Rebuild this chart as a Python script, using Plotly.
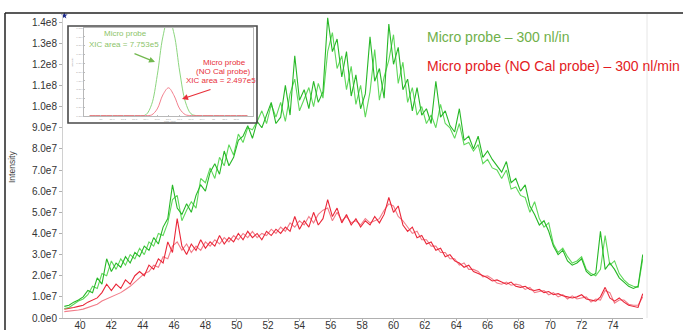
import plotly.graph_objects as go

# ---------------------------------------------------------------
# Data: extracted-ion intensities (units of 1e7 counts), sampled
# every 0.3 min from 39.0 min
# ---------------------------------------------------------------
T0, DT = 39.0, 0.3
SCALE = 1e7

green_a = [0.55, 0.6, 0.75, 0.85, 1.0, 1.3, 1.2, 1.9, 1.6, 2.8,
           2.2, 2.6, 2.4, 2.9, 2.6, 3.1, 2.9, 3.4, 3.2, 3.8,
           3.5, 4.3, 4.7, 6.3, 5.2, 4.9, 5.4, 5.0, 5.8, 6.3,
           6.0, 6.9, 7.3, 6.8, 7.9, 7.2, 7.6, 8.4, 8.6, 9.1,
           8.5, 9.3, 9.0, 9.6, 10.2, 9.2, 9.5, 11.0, 9.6, 12.4,
           10.3, 10.8, 9.9, 11.2, 10.2, 10.7, 14.2, 12.6, 13.2, 11.4,
           12.6, 10.5, 11.5, 9.9, 10.6, 13.3, 11.2, 11.8, 10.4, 13.9,
           12.0, 12.8, 10.8, 11.3, 9.8, 10.9, 9.6, 9.9, 9.2, 11.2,
           9.5, 9.8, 9.1, 8.8, 9.9, 8.4, 8.6, 8.0, 8.6, 7.6,
           7.9, 7.5, 7.2, 6.9, 7.4, 6.4, 6.6, 6.0, 6.3, 5.3,
           4.9, 4.4, 4.6, 4.1, 3.4, 3.0, 3.2, 2.7, 2.5, 2.6,
           2.8, 2.2, 2.0, 2.1, 4.1, 2.3, 2.6, 2.3, 1.9, 1.7,
           1.5, 1.4, 1.5, 3.0]

green_b = [0.45, 0.5, 0.65, 0.8, 0.9, 1.1, 1.5, 1.4, 2.1, 2.0,
           2.7, 2.3, 2.8, 2.5, 3.0, 2.8, 3.3, 3.0, 3.6, 3.4,
           4.0, 3.9, 4.5, 5.6, 5.8, 4.6, 5.1, 5.5, 5.2, 6.6,
           6.4, 7.1, 6.6, 7.6, 7.2, 8.2, 7.7, 8.7, 8.3, 9.0,
           8.9, 9.3, 9.8, 9.2, 10.1, 9.5, 10.2, 9.3, 10.6, 11.3,
           9.8, 10.4, 10.9, 10.0, 11.1, 10.4, 12.6, 13.5, 11.8, 12.4,
           10.8, 11.9, 10.1, 11.0, 9.5, 10.7, 12.7, 10.3, 11.4, 12.2,
           13.4, 11.1, 12.1, 10.2, 10.9, 9.6, 10.0, 9.2, 9.6, 9.0,
           10.1, 9.2, 9.0, 8.5, 9.2, 8.2, 8.3, 7.9, 8.2, 7.3,
           7.5, 7.1, 7.0, 6.6, 7.0, 6.1, 6.2, 5.8, 5.7, 5.0,
           5.5, 4.7, 4.3, 4.5, 3.5, 3.1, 3.3, 2.9, 2.6, 2.7,
           2.9, 2.3, 2.1, 2.0, 2.3, 3.9, 2.5, 2.7, 2.1, 1.8,
           1.6, 1.5, 1.45, 2.8]

red_a = [0.42, 0.45, 0.5, 0.55, 0.6, 0.75, 0.85, 0.95, 1.2, 1.6,
         1.3, 1.6, 1.4, 1.8, 1.6, 2.0, 2.2, 2.0, 2.5, 2.3,
         2.8, 2.6, 3.6, 3.1, 4.7, 3.4, 3.0, 3.5, 3.2, 3.7,
         3.3, 3.6, 3.4, 3.9, 3.5, 3.8, 3.6, 4.0, 3.7, 4.1,
         3.8, 4.0, 3.7, 4.1, 3.9, 4.2, 4.0, 4.3, 4.1, 4.8,
         4.2, 4.6, 4.3, 5.0, 4.4, 4.7, 5.6, 4.8, 5.2, 4.5,
         4.9, 4.4, 4.7, 4.3, 4.6, 4.4, 4.8, 4.5, 4.9, 5.7,
         5.0, 5.3, 4.4, 4.1, 4.3, 3.8, 3.9, 3.5, 3.6, 3.2,
         3.3, 2.9, 3.0, 2.7, 2.6, 2.4, 2.5, 2.2, 2.1, 2.0,
         1.9, 1.75, 1.8, 1.7, 1.6, 1.7, 1.5, 1.45, 1.5, 1.35,
         1.3, 1.35, 1.2, 1.25, 1.1, 1.15, 1.05, 1.0, 0.95, 1.0,
         1.1, 0.9, 0.85, 0.8, 1.0, 1.45, 0.95, 0.8, 0.95, 0.75,
         0.6, 0.55, 0.5, 1.15]

red_b = [0.3, 0.32, 0.35, 0.38, 0.42, 0.5, 0.6, 0.65, 0.8, 0.9,
         1.0, 1.1, 1.2, 1.35, 1.5, 1.7, 1.9, 2.1, 2.2, 2.5,
         2.4, 2.9, 2.8, 3.4, 3.6, 3.2, 3.5, 3.1, 3.4, 3.2,
         3.6, 3.4, 3.7, 3.5, 3.8, 3.6, 3.9, 3.7, 4.0, 3.8,
         4.1, 3.8, 4.0, 3.9, 4.2, 4.0, 4.3, 4.1, 4.5, 4.3,
         4.6, 4.4, 4.8, 4.5, 4.9, 5.1, 5.2, 4.6, 5.0, 4.6,
         4.8, 4.5, 4.6, 4.4, 4.7, 4.5, 4.6, 4.7, 5.1, 5.4,
         5.3, 4.8, 4.6, 4.3, 4.0, 4.1, 3.7, 3.7, 3.4, 3.4,
         3.1, 3.1, 2.8, 2.8, 2.5, 2.6, 2.3, 2.3, 2.2, 1.95,
         2.0, 1.85, 1.65, 1.6, 1.7, 1.55, 1.6, 1.55, 1.35, 1.45,
         1.2, 1.25, 1.3, 1.1, 1.2, 1.0, 1.1, 0.9, 1.05, 0.9,
         0.95, 1.0, 0.75, 0.9, 0.85, 1.3, 1.2, 0.7, 0.85, 0.85,
         0.65, 0.6, 0.6, 1.0]

x_ticks = [40, 42, 44, 46, 48, 50, 52, 54, 56, 58, 60, 62, 64, 66, 68, 70, 72, 74]
y_tick_vals = [0, 1e7, 2e7, 3e7, 4e7, 5e7, 6e7, 7e7, 8e7, 9e7, 1e8, 1.1e8, 1.2e8, 1.3e8, 1.4e8]
y_tick_text = ["0.0e0", "1.0e7", "2.0e7", "3.0e7", "4.0e7", "5.0e7", "6.0e7", "7.0e7",
               "8.0e7", "9.0e7", "1.0e8", "1.1e8", "1.2e8", "1.3e8", "1.4e8"]

# XIC peaks shown in the inset (sampled every 0.05 min from 56.9 min)
INSET_T0, INSET_DT = 56.9, 0.05
inset_green = [0.02, 0.02, 0.02, 0.02, 0.02, 0.02, 0.02, 0.02, 0.02, 0.02,
               0.15, 1.3, 4.6, 9.0, 11.2, 9.3, 5.0, 1.6, 0.25, 0.04,
               0.02, 0.02, 0.02, 0.02, 0.02, 0.02, 0.02, 0.02, 0.02]
inset_red = [0.05, 0.05, 0.05, 0.05, 0.05, 0.05, 0.05, 0.05, 0.05, 0.05,
             0.05, 0.12, 0.8, 2.4, 3.2, 2.3, 0.8, 0.15, 0.05, 0.05,
             0.05, 0.05, 0.05, 0.05, 0.05, 0.05, 0.05, 0.05, 0.05]
inset_x_ticks = [57.0, 57.1, 57.2, 57.3, 57.4, 57.5, 57.6, 57.7, 57.8, 57.9, 58.0, 58.1, 58.2]
inset_y_ticks = [0, 1, 2, 3, 4, 5, 6, 7, 8, 9, 10]
inset_y_text = ["0.0e0", "1.0e4", "2.0e4", "3.0e4", "4.0e4", "5.0e4",
                "6.0e4", "7.0e4", "8.0e4", "9.0e4", "1.0e5"]

label_green = "Micro probe \u2013 300 nl/in"
label_red = "Micro probe (NO Cal probe) \u2013 300 nl/min"

# ---------------------------------------------------------------
times = [round(T0 + DT * i, 2) for i in range(len(green_a))]
inset_t = [round(INSET_T0 + INSET_DT * i, 3) for i in range(len(inset_green))]

W, H = 683, 330
L, R, T, B = 63, 40, 14, 12
PW, PH = W - L - R, H - T - B


def px(x):
    """pixel column -> paper x"""
    return (x - L) / PW


def py(y):
    """pixel row -> paper y"""
    return (H - B - y) / PH


FONT = "Arial, Liberation Sans, sans-serif"
GREEN_TXT = "#6fb04a"
RED_TXT = "#e31b23"
INSET_GREEN_TXT = "#8cc46a"
INSET_RED_TXT = "#e8303a"

fig = go.Figure()

for vals, col in [(red_b, "#f27c89"), (red_a, "#ea2739"),
                  (green_b, "#5fd85a"), (green_a, "#27b827")]:
    fig.add_trace(go.Scatter(
        x=times, y=[v * SCALE for v in vals], mode="lines",
        line=dict(color=col, width=1.1), hoverinfo="skip"))

# software markers on the axes
fig.add_trace(go.Scatter(x=[39.0], y=[1.43e8], mode="markers",
                         marker=dict(symbol="star", size=5, color="#1c2a8c"),
                         cliponaxis=False, hoverinfo="skip"))
fig.add_trace(go.Scatter(x=[57.4], y=[-0.1e7], mode="markers",
                         marker=dict(symbol="star", size=6, color="#9b30c0"),
                         cliponaxis=False, hoverinfo="skip"))

# inset XIC traces
fig.add_trace(go.Scatter(x=inset_t, y=inset_green, mode="lines", xaxis="x2", yaxis="y2",
                         line=dict(color="#7fd070", width=0.9, shape="spline"), hoverinfo="skip"))
fig.add_trace(go.Scatter(x=inset_t, y=inset_red, mode="lines", xaxis="x2", yaxis="y2",
                         line=dict(color="#f07080", width=0.9, shape="spline"), hoverinfo="skip"))


def label(x, y, text, size, color, anchor="center", angle=0):
    return dict(x=px(x), y=py(y), xref="paper", yref="paper", text=text,
                xanchor=anchor, yanchor="middle", textangle=angle, showarrow=False,
                font=dict(family=FONT, size=size, color=color))


annotations = [
    label(12, 167, "Intensity", 8.5, "#444", angle=-90),
    label(425, 37, label_green, 14, GREEN_TXT, anchor="left"),
    label(425, 66, label_red, 14, RED_TXT, anchor="left"),
    # inset labels
    label(125, 34, "Micro probe", 8, INSET_GREEN_TXT),
    label(124, 44.5, "XIC area = 7.753e5", 8, INSET_GREEN_TXT),
    label(224, 62, "Micro probe", 8, INSET_RED_TXT),
    label(223, 71, "(NO Cal probe)", 8, INSET_RED_TXT),
    label(221, 80.5, "XIC area = 2.497e5", 8, INSET_RED_TXT),
    label(170, 121.3, "Time (min)", 2.5, "#999"),
    label(72, 62, "Intensity", 2.5, "#999", angle=-90),
    # inset arrows
    dict(x=px(155), y=py(62), xref="paper", yref="paper", text="", showarrow=True,
         ax=-22, ay=-9, arrowhead=2, arrowsize=1, arrowwidth=1.2, arrowcolor="#72b84f"),
    dict(x=px(182), y=py(99), xref="paper", yref="paper", text="", showarrow=True,
         ax=30, ay=-10, arrowhead=2, arrowsize=1, arrowwidth=1.2, arrowcolor="#e8303a"),
]

shapes = [
    # frame around the figure
    dict(type="line", xref="paper", yref="paper", x0=px(5), x1=px(5), y0=py(13), y1=py(332),
         line=dict(color="#222", width=1.5)),
    dict(type="line", xref="paper", yref="paper", x0=px(5), x1=px(685), y0=py(13), y1=py(13),
         line=dict(color="#222", width=1.5)),
    dict(type="line", xref="paper", yref="paper", x0=px(647), x1=px(647), y0=py(14), y1=py(318),
         line=dict(color="#e6e6e6", width=1)),
    # inset border
    dict(type="rect", xref="paper", yref="paper", x0=px(68), x1=px(257), y0=py(123), y1=py(26),
         line=dict(color="#4a4a4a", width=1.6), layer="above"),
]

fig.update_layout(
    width=W, height=H,
    margin=dict(l=L, r=R, t=T, b=B, autoexpand=False),
    paper_bgcolor="white", plot_bgcolor="white",
    showlegend=False, hovermode=False,
    font=dict(family=FONT, size=10, color="#333"),
    xaxis=dict(range=[38.915, 75.915], tickvals=x_ticks, showgrid=False, zeroline=False,
               automargin=False,
               showline=True, linecolor="#b0b0b0", linewidth=1,
               ticks="outside", ticklen=2, tickcolor="#b0b0b0",
               ticklabelstandoff=-4,
               tickfont=dict(family=FONT, size=10, color="#333")),
    yaxis=dict(range=[0, 1.438e8], tickvals=y_tick_vals, ticktext=y_tick_text,
               showgrid=False, zeroline=False, automargin=False,
               showline=True, linecolor="#d0d0d0", linewidth=1,
               ticks="outside", ticklen=3, tickcolor="#b0b0b0",
               tickfont=dict(family=FONT, size=10, color="#333")),
    xaxis2=dict(domain=[px(84), px(253)], anchor="y2", range=[56.85, 58.35],
                tickvals=inset_x_ticks, showgrid=False, zeroline=False, automargin=False,
                showline=True, linecolor="#b8b8b8", linewidth=0.8, mirror=True,
                ticks="inside", ticklen=1.5, tickcolor="#bbb",
                tickfont=dict(family=FONT, size=2.5, color="#999")),
    yaxis2=dict(domain=[py(116), py(28)], anchor="x2", range=[0, 10],
                tickvals=inset_y_ticks, ticktext=inset_y_text, showgrid=False, zeroline=False,
                automargin=False,
                showline=True, linecolor="#b8b8b8", linewidth=0.8, mirror=True,
                ticks="inside", ticklen=1.5, tickcolor="#bbb",
                tickfont=dict(family=FONT, size=2.5, color="#999")),
    annotations=annotations,
    shapes=shapes,
)

fig.write_html("out.html")
